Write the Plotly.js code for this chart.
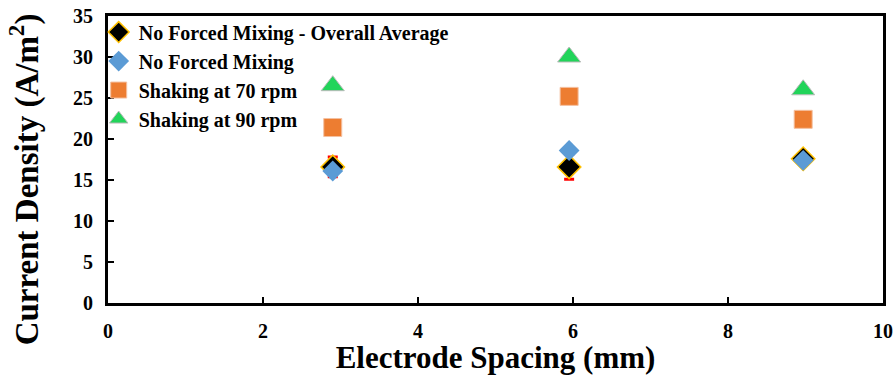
<!DOCTYPE html>
<html>
<head>
<meta charset="utf-8">
<script src="https://cdn.plot.ly/plotly-3.0.1.min.js"></script>
<style>html,body{margin:0;padding:0;background:#fff;}#chart{width:894px;height:375px;}</style>
</head>
<body>
<div id="chart"></div>
<script>
// Data
const spacing = [2.9, 5.95, 8.97];
const avgNoMix = [16.6, 16.6, 17.6];
const avgNoMixErr = [1.2, 1.5, 0.3];
const noMix = [16.1, 18.6, 17.4];
const shake70 = [21.4, 25.2, 22.4];
const shake90 = [26.5, 30.0, 26.0];
const xTicks = [0, 2, 4, 6, 8, 10];
const yTicks = [0, 5, 10, 15, 20, 25, 30, 35];

const FONT = 'Liberation Serif, Times New Roman, serif';

const traces = [
  {
    x: spacing, y: avgNoMix, name: 'No Forced Mixing - Overall Average',
    type: 'scatter', mode: 'markers',
    marker: {symbol: 'diamond', size: 18, color: '#000000', line: {color: '#FFC000', width: 1.5}},
    error_y: {type: 'data', array: avgNoMixErr, visible: true, color: '#FF0000', thickness: 3, width: 5}
  },
  {
    x: spacing, y: noMix, name: 'No Forced Mixing',
    type: 'scatter', mode: 'markers',
    marker: {symbol: 'diamond', size: 16, color: '#5B9BD5', line: {color: '#5B9BD5', width: 0}}
  },
  {
    x: spacing, y: shake70, name: 'Shaking at 70 rpm',
    type: 'scatter', mode: 'markers',
    marker: {symbol: 'square', size: 18, color: '#ED7D31', line: {color: '#F4C0A0', width: 1}}
  },
  {
    x: spacing, y: shake90, name: 'Shaking at 90 rpm',
    type: 'scatter', mode: 'markers',
    marker: {symbol: 'triangle-up', size: 20, color: '#22D45A', line: {color: '#BBBBBB', width: 1}}
  }
];

const layout = {
  width: 894, height: 375,
  margin: {l: 108, r: 11, t: 16, b: 72},
  paper_bgcolor: '#ffffff', plot_bgcolor: '#ffffff',
  font: {family: FONT, color: '#000', weight: 'bold'},
  showlegend: true,
  legend: {
    x: -0.012, y: 1.012, xanchor: 'left', yanchor: 'top',
    bgcolor: 'rgba(0,0,0,0)', borderwidth: 0,
    font: {family: FONT, size: 20, color: '#000', weight: 'bold'},
    tracegroupgap: 0, itemwidth: 30
  },
  xaxis: {
    range: [0, 10], tickvals: xTicks, ticktext: xTicks.map(v => '<b>' + v + '</b>'),
    showgrid: false, zeroline: false,
    showline: true, linecolor: '#000', linewidth: 3, mirror: true,
    ticks: 'inside', ticklen: 6, tickwidth: 2, tickcolor: '#000',
    ticklabelstandoff: 8,
    tickfont: {family: FONT, size: 20, color: '#000', weight: 'bold'},
    title: {text: '<b>Electrode Spacing (mm)</b>', font: {family: FONT, size: 31, color: '#000', weight: 'bold'}, standoff: 4}
  },
  yaxis: {
    range: [0, 35], tickvals: yTicks, ticktext: yTicks.map(v => '<b>' + v + '</b>'),
    showgrid: false, zeroline: false,
    showline: true, linecolor: '#000', linewidth: 3, mirror: true,
    ticks: 'inside', ticklen: 6, tickwidth: 2, tickcolor: '#000',
    ticklabelstandoff: 8,
    tickfont: {family: FONT, size: 20, color: '#000', weight: 'bold'}
  },
  annotations: [{
    text: '<b>Current Density (A/m<sup>2</sup>)</b>',
    xref: 'paper', yref: 'paper', x: -0.108, y: 0.432,
    xanchor: 'center', yanchor: 'middle', textangle: -90, showarrow: false,
    font: {family: FONT, size: 33, color: '#000', weight: 'bold'}
  }]
};

Plotly.newPlot('chart', traces, layout, {displayModeBar: false, staticPlot: true});
</script>
</body>
</html>
